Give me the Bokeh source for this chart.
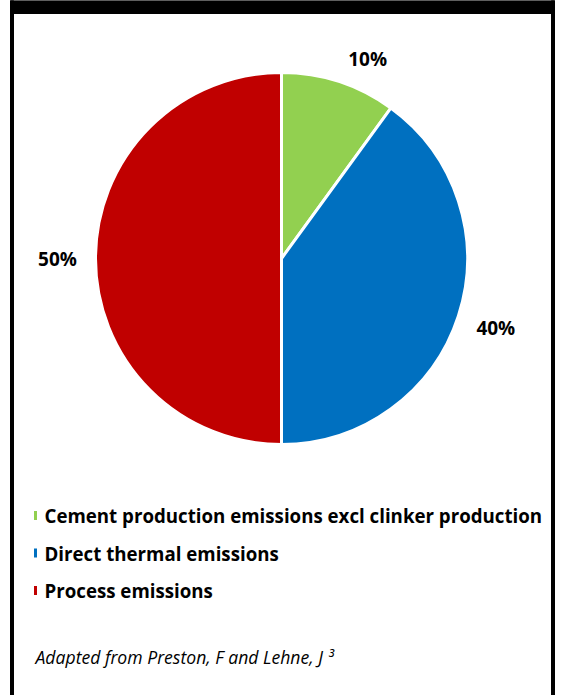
import numpy as np
from bokeh.plotting import figure
from bokeh.models import Range1d, ColumnDataSource
from bokeh.core.properties import value
from bokeh.embed import file_html
from bokeh.resources import INLINE

# Share of cement-sector CO2 emissions by source (%)
categories = [
    "Cement production emissions excl clinker production",
    "Direct thermal emissions",
    "Process emissions",
]
shares = [10, 40, 50]
colors = ["#92D050", "#0070C0", "#C00000"]
footnote = "Adapted from Preston, F and Lehne, J \u00b3"

W, H = 561, 695
FONT = "Open Sans"


def Y(px):
    """Convert a top-down pixel row into the plot's bottom-up y coordinate."""
    return H - px


p = figure(width=W, height=H, x_range=Range1d(0, W), y_range=Range1d(0, H),
           output_backend="svg", toolbar_location=None, min_border=0)
p.axis.visible = False
p.grid.visible = False
p.outline_line_color = None
p.background_fill_color = "white"
p.border_fill_color = "white"

# Panel frame: heavy black header bar with thin side rules
p.quad(left=[10], right=[554], top=[Y(0)], bottom=[Y(13)], color="black")
p.quad(left=[10, 551], right=[13, 554], top=[H, H], bottom=[0, 0], color="black")

# Pie, starting at 12 o'clock and running clockwise
cx, cy, R = 281, 258, 186
frac = np.array(shares, dtype=float) / sum(shares)
cum_end = np.cumsum(frac)
cum_start = cum_end - frac
start_deg = 90 - 360 * cum_end
end_deg = 90 - 360 * cum_start

pie_src = ColumnDataSource(dict(start=start_deg, end=end_deg, color=colors, cat=categories))
p.wedge(x=cx, y=Y(cy), radius=R, start_angle="start", end_angle="end",
        start_angle_units="deg", end_angle_units="deg",
        fill_color="color", line_color="white", line_width=3, source=pie_src)

# Outside-end data labels placed along each slice's mid angle
mid = np.radians(360 * (cum_start + cum_end) / 2)   # clockwise from top
gap, half_w, half_h = 18, 20, 7.5
dist = R + gap + half_w * np.abs(np.sin(mid)) + half_h * np.abs(np.cos(mid))
nudge_x = np.array([19, 0, 0])
nudge_y = np.array([7, 0, 0])
lx = cx + dist * np.sin(mid) + nudge_x
ly_px = cy - dist * np.cos(mid) + nudge_y
p.text(x=lx, y=Y(ly_px), text=[f"{s}%" for s in shares],
       text_font=value(FONT), text_font_style="bold", text_font_size="19px",
       text_align="center", text_baseline="middle", text_color="black")

# Legend below the pie
row0, row_step = 515, 37.5
rows_px = row0 + row_step * np.arange(len(categories))
p.rect(x=35, y=Y(rows_px), width=3, height=9, fill_color=colors, line_color=None)
p.text(x=44, y=Y(rows_px), text=categories,
       text_font=value(FONT), text_font_style="bold", text_font_size="18.7px",
       text_align="left", text_baseline="middle", text_color="black")

# Source note
p.text(x=[35], y=[Y(656)], text=[footnote],
       text_font=value(FONT), text_font_style="italic", text_font_size="17.6px",
       text_align="left", text_baseline="middle", text_color="black")

open("out.html", "w").write(file_html(p, INLINE))
